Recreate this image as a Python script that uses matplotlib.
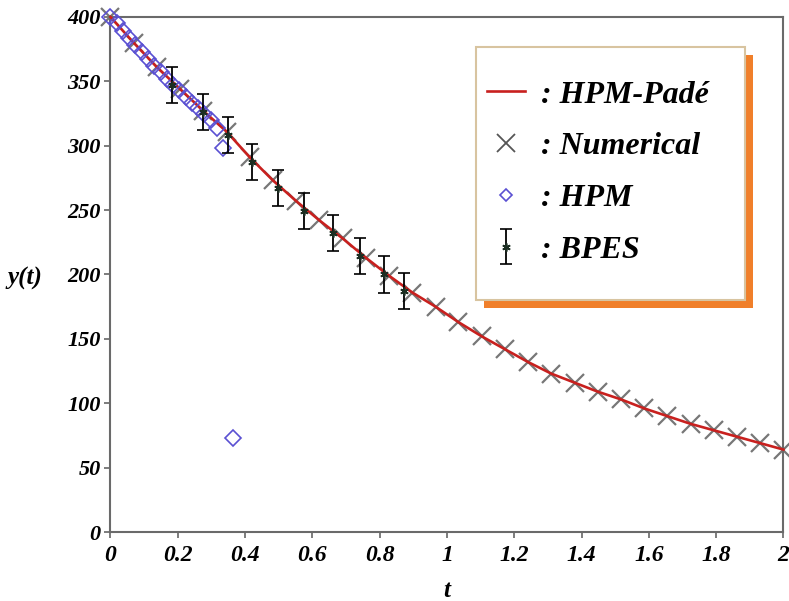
import matplotlib
matplotlib.use("Agg")
import matplotlib.pyplot as plt
from matplotlib.lines import Line2D
from matplotlib.patches import Rectangle
from matplotlib.container import ErrorbarContainer
from matplotlib.legend_handler import HandlerErrorbar

# ---- data ----
# numerical solution (grey crosses), 30 points on [0, 2]
t_num = [0.000, 0.069, 0.138, 0.207, 0.276, 0.345, 0.414, 0.483, 0.552, 0.621,
         0.690, 0.759, 0.828, 0.897, 0.966, 1.034, 1.103, 1.172, 1.241, 1.310,
         1.379, 1.448, 1.517, 1.586, 1.655, 1.724, 1.793, 1.862, 1.931, 2.000]
y_num = [400, 380, 361, 344, 327, 311, 291, 273, 257, 242,
         228, 213, 199, 186, 175, 163, 152, 142, 132, 123,
         116, 109, 103, 96, 90, 84, 79, 74, 69, 64]

# HPM-Pade curve (red line)
t_pade = t_num
y_pade = y_num

# HPM series (diamonds), diverges past t ~ 0.33
t_hpm = [0.000, 0.019, 0.037, 0.056, 0.074, 0.093, 0.112, 0.130, 0.149, 0.168,
         0.186, 0.205, 0.223, 0.242, 0.261, 0.279, 0.298, 0.317, 0.335, 0.365]
y_hpm = [400, 395, 389, 384, 378, 373, 367, 362, 357, 352,
         347, 343, 338, 333, 329, 325, 320, 314, 298, 73]

# BPES estimates with error bars
t_bpes = [0.183, 0.275, 0.349, 0.420, 0.498, 0.575, 0.661, 0.741, 0.813, 0.873]
y_bpes = [347, 326, 308, 287, 267, 249, 232, 214, 200, 187]
err_bpes = [14, 14, 14, 14, 14, 14, 14, 14, 14, 14]

x_ticks = [0, 0.2, 0.4, 0.6, 0.8, 1.0, 1.2, 1.4, 1.6, 1.8, 2.0]
x_ticklabels = ["0", "0.2", "0.4", "0.6", "0.8", "1", "1.2", "1.4", "1.6", "1.8", "2"]
y_ticks = [0, 50, 100, 150, 200, 250, 300, 350, 400]

SERIF = "Liberation Serif"
RED = "#c8201e"
GREY = "#777777"
BLUE = "#5a50d2"
ORANGE = "#f07f2a"

fig = plt.figure(figsize=(7.89, 6.01), dpi=100)
ax = fig.add_axes([0.140, 0.1148, 0.853, 0.857])

ax.plot(t_num, y_num, ls="none", marker="x", ms=13, mew=1.6, color=GREY,
        clip_on=False, zorder=2)
ax.plot(t_pade, y_pade, color=RED, lw=1.9, zorder=3, clip_on=False)
ax.plot(t_hpm, y_hpm, ls="none", marker="D", ms=8, mfc="none", mew=1.2,
        color=BLUE, zorder=4, clip_on=False)
bpes = ax.errorbar(t_bpes, y_bpes, yerr=err_bpes, ls="none", marker=(6, 2, 0),
                   ms=6, mew=1.2, color="#1c2e22", ecolor="black",
                   elinewidth=1.3, capsize=4, capthick=1.3, zorder=5)

ax.set_xlim(0, 2)
ax.set_ylim(0, 400)
ax.set_xticks(x_ticks)
ax.set_xticklabels(x_ticklabels)
ax.set_yticks(y_ticks)
for lab in ax.get_xticklabels():
    lab.set_fontfamily(SERIF); lab.set_fontstyle("italic")
    lab.set_fontweight("bold"); lab.set_fontsize(17)
for lab in ax.get_yticklabels():
    lab.set_fontfamily(SERIF); lab.set_fontstyle("italic")
    lab.set_fontweight("bold"); lab.set_fontsize(16)
ax.tick_params(direction="out", length=4, width=1.2, color="#666666", pad=3)
ax.tick_params(axis="x", pad=5)
for s in ax.spines.values():
    s.set_color("#6a6a6a"); s.set_linewidth(1.5)

lab_kw = dict(family=SERIF, style="italic", weight="bold", fontsize=18)
ax.set_xlabel("t", va="center", **lab_kw)
ax.xaxis.set_label_coords(0.5, -0.113)
ax.set_ylabel("y(t)", rotation=0, ha="center", va="center", **lab_kw)
ax.yaxis.set_label_coords(-0.127, 0.493)

# ---- legend box with orange drop shadow ----
x0, x1, y0, y1 = 0.543, 0.943, 0.4505, 0.942
ax.add_patch(Rectangle((x0 + 0.0119, y0 - 0.0155), x1 - x0, y1 - y0,
                       transform=ax.transAxes, facecolor=ORANGE, edgecolor="none",
                       zorder=7, clip_on=False))
ax.add_patch(Rectangle((x0, y0), x1 - x0, y1 - y0, transform=ax.transAxes,
                       facecolor="white", edgecolor="#d8c4a0", lw=1.5,
                       zorder=8, clip_on=False))

handles = [
    Line2D([], [], color=RED, lw=1.9),
    Line2D([], [], ls="none", marker="x", ms=13, mew=1.3, color="#555555"),
    Line2D([], [], ls="none", marker="D", ms=6.5, mfc="none", mew=1.2, color=BLUE),
    bpes,
]
labels = [": HPM-Padé", ": Numerical", ": HPM", ": BPES"]
leg = ax.legend(handles, labels, loc="upper left", bbox_to_anchor=(0.559, 0.877),
                frameon=False, borderpad=0, borderaxespad=0, handlelength=1.2,
                handletextpad=0.5, labelspacing=0.7,
                handler_map={ErrorbarContainer: HandlerErrorbar(xerr_size=0.3,
                                                                yerr_size=0.55)},
                prop=dict(family=SERIF, style="italic", weight="bold", size=23))
leg.set_zorder(9)

fig.savefig("out.png", dpi=100)
